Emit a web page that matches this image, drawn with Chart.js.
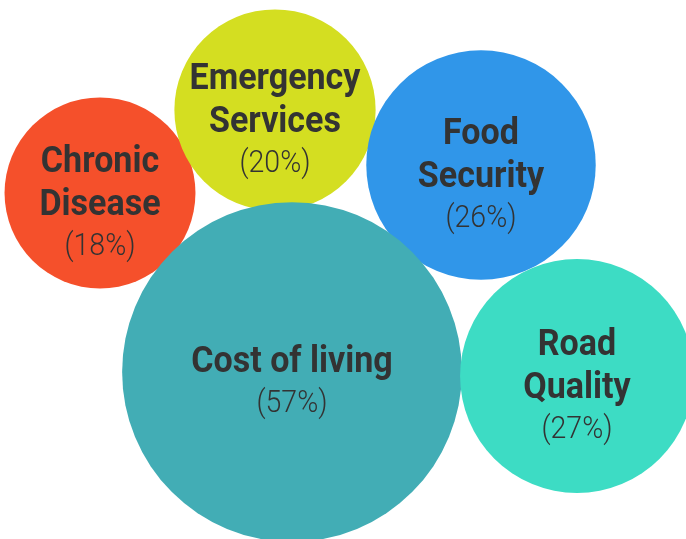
<!DOCTYPE html>
<html>
<head>
<meta charset="utf-8">
<script src="https://cdn.jsdelivr.net/npm/chart.js@4"></script>
<style>
html,body{margin:0;padding:0;background:#fff;}
#wrap{width:686px;height:539px;}
</style>
</head>
<body>
<div id="wrap"><canvas id="c" width="686" height="539"></canvas></div>
<script>
const categories = ['Chronic\nDisease', 'Emergency\nServices', 'Food\nSecurity', 'Cost of living', 'Road\nQuality'];
const values = [18, 20, 26, 57, 27];
const xPos = [100, 275, 481, 292, 577];
const yPos = [193, 110, 165, 372, 376];
const colors = ['#F5502B', '#D4DE21', '#3096E9', '#42ADB5', '#3DDCC4'];

const K = 22.5;
const labelPlugin = {
  id: 'bubbleLabels',
  afterDatasetsDraw(chart) {
    const ctx = chart.ctx;
    const meta = chart.getDatasetMeta(0);
    meta.data.forEach((pt, i) => {
      const lines = categories[i].split('\n');
      const pct = '(' + values[i] + '%)';
      const lh = 43, gap = 40;
      const total = (lines.length - 1) * lh + gap;
      let y = pt.y + 20 - total / 2;
      ctx.save();
      ctx.fillStyle = '#333333';
      ctx.textAlign = 'center';
      ctx.textBaseline = 'alphabetic';
      const sx = 0.92;
      ctx.translate(pt.x, 0);
      ctx.scale(sx, 1);
      ctx.font = 'bold 37px Roboto';
      lines.forEach((ln, j) => {
        ctx.fillText(ln, 0, y + j * lh);
      });
      ctx.font = '300 31px Roboto';
      ctx.fillText(pct, 0, y + (lines.length - 1) * lh + gap);
      ctx.restore();
    });
  }
};

new Chart(document.getElementById('c'), {
  type: 'bubble',
  data: {
    datasets: [{
      data: values.map((v, i) => ({ x: xPos[i], y: yPos[i], v: v })),
      backgroundColor: colors,
      borderWidth: 0,
      hoverBorderWidth: 0,
      radius: (c) => K * Math.sqrt(values[c.dataIndex]),
      clip: false
    }]
  },
  options: {
    responsive: false,
    animation: false,
    layout: { padding: 0, autoPadding: false },
    plugins: { legend: { display: false }, tooltip: { enabled: false } },
    scales: {
      x: { type: 'linear', min: 0, max: 686, display: false },
      y: { type: 'linear', min: 0, max: 539, reverse: true, display: false }
    }
  },
  plugins: [labelPlugin]
});
</script>
</body>
</html>
